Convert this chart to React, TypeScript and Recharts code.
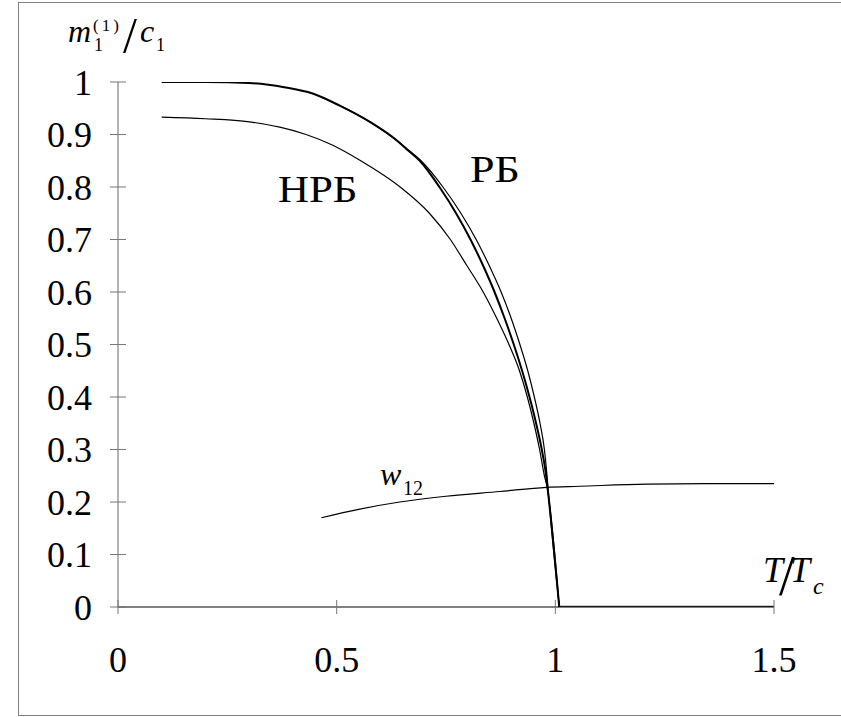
import React from 'react';
import { LineChart, Line, XAxis, YAxis } from 'recharts';

// ---- data ----
const xTicks = [0, 0.5, 1, 1.5];
const yTicks = [0, 0.1, 0.2, 0.3, 0.4, 0.5, 0.6, 0.7, 0.8, 0.9, 1];

// РБ (thick) curve
const rbT = [0.1, 0.2, 0.3, 0.38, 0.445, 0.507, 0.576, 0.637, 0.66, 0.69, 0.735, 0.773, 0.806, 0.835, 0.861, 0.884, 0.905, 0.924, 0.941, 0.956, 0.969, 0.979, 0.982, 1.009];
const rbV = [1.0, 1.0, 0.998, 0.99, 0.978, 0.955, 0.924, 0.889, 0.872, 0.85, 0.8, 0.75, 0.7, 0.65, 0.6, 0.55, 0.5, 0.45, 0.4, 0.35, 0.3, 0.25, 0.229, 0];

// zero line above Tc
const zeroT = [1.009, 1.5];
const zeroV = [0, 0];

// second thin curve (right of the thick one)
const rb2T = [0.465, 0.507, 0.576, 0.637, 0.662, 0.693, 0.743, 0.784, 0.819, 0.849, 0.876, 0.899, 0.919, 0.937, 0.952, 0.965, 0.975, 0.981, 0.983, 1.009];
const rb2V = [0.971, 0.955, 0.924, 0.889, 0.872, 0.85, 0.8, 0.75, 0.7, 0.65, 0.6, 0.55, 0.5, 0.45, 0.4, 0.35, 0.3, 0.25, 0.229, 0];

// НРБ curve
const nrbT = [0.1, 0.2, 0.301, 0.37, 0.43, 0.49, 0.555, 0.645, 0.712, 0.76, 0.798, 0.835, 0.866, 0.894, 0.918, 0.936, 0.951, 0.964, 0.975, 0.981, 1.009];
const nrbV = [0.933, 0.93, 0.924, 0.914, 0.9, 0.88, 0.85, 0.8, 0.75, 0.7, 0.65, 0.6, 0.55, 0.5, 0.45, 0.4, 0.35, 0.3, 0.25, 0.229, 0];

// w12 curve
const wT = [0.465, 0.55, 0.644, 0.75, 0.873, 0.98, 1.055, 1.208, 1.345, 1.5];
const wV = [0.17, 0.186, 0.2, 0.211, 0.22, 0.228, 0.23, 0.234, 0.235, 0.235];

const toData = (ts: number[], vs: number[]) => ts.map((t, i) => ({ t, v: vs[i] }));

const SERIF = '"Liberation Serif", serif';

const XTick = (props: any) => {
  const { x, y, payload } = props;
  return (
    <g>
      <line x1={x} x2={x} y1={y - 7} y2={y + 7} stroke="#777" strokeWidth={1} />
      <text x={x} y={y + 65} textAnchor="middle" style={{ fontFamily: SERIF, fontSize: 36 }} fill="#000">
        {String(payload.value)}
      </text>
    </g>
  );
};

const YTick = (props: any) => {
  const { x, y, payload } = props;
  return (
    <g>
      <line x1={x - 8} x2={x + 8} y1={y} y2={y} stroke="#777" strokeWidth={1} />
      <text x={x - 26} y={y} dy="0.355em" textAnchor="end" style={{ fontFamily: SERIF, fontSize: 36 }} fill="#000">
        {String(payload.value)}
      </text>
    </g>
  );
};

export default function App() {
  return (
    <div style={{ position: 'absolute', left: 0, top: 0, width: 841, height: 717, background: '#fff' }}>
      <div
        style={{
          position: 'absolute',
          left: 18,
          top: 2,
          width: 830,
          height: 714,
          border: '1px solid #808080',
          boxSizing: 'border-box',
        }}
      />
      <div style={{ position: 'absolute', left: 0, top: 0 }}>
        <LineChart width={841} height={717} margin={{ top: 82, right: 67, bottom: 30, left: 0 }}>
          <XAxis
            type="number"
            dataKey="t"
            domain={[0, 1.5]}
            ticks={xTicks}
            allowDataOverflow
            height={80}
            axisLine={{ stroke: '#000', strokeWidth: 1 }}
            tickLine={false}
            tickSize={0}
            tickMargin={0}
            tick={XTick}
            interval={0}
          />
          <YAxis
            type="number"
            dataKey="v"
            domain={[0, 1]}
            ticks={yTicks}
            allowDataOverflow
            width={118}
            axisLine={{ stroke: '#666', strokeWidth: 1 }}
            tickLine={false}
            tickSize={0}
            tickMargin={0}
            tick={YTick}
            interval={0}
          />
          <Line data={toData(nrbT, nrbV)} dataKey="v" type="monotone" stroke="#000" strokeWidth={1.2} dot={false} isAnimationActive={false} />
          <Line data={toData(rb2T, rb2V)} dataKey="v" type="monotone" stroke="#000" strokeWidth={1.2} dot={false} isAnimationActive={false} />
          <Line data={toData(rbT, rbV)} dataKey="v" type="monotone" stroke="#000" strokeWidth={2} dot={false} isAnimationActive={false} />
          <Line data={toData(zeroT, zeroV)} dataKey="v" type="linear" stroke="#333" strokeWidth={2.5} dot={false} isAnimationActive={false} />
          <Line data={toData(wT, wV)} dataKey="v" type="monotone" stroke="#000" strokeWidth={1.2} dot={false} isAnimationActive={false} />
        </LineChart>
      </div>
      <svg width={841} height={717} style={{ position: 'absolute', left: 0, top: 0, pointerEvents: 'none' }}>
        {/* y axis title m1^(1)/c1 */}
        <text style={{ fontFamily: SERIF }} fill="#000">
          <tspan x={68} y={42} fontStyle="italic" fontSize={32}>m</tspan>
          <tspan x={93} y={31} fontSize={17} letterSpacing={3}>(1)</tspan>
        </text>
        <text style={{ fontFamily: SERIF }} fill="#000">
          <tspan x={94} y={51} fontSize={18}>1</tspan>
          <tspan x={123} y={52} fontSize={50}>/</tspan>
          <tspan x={140} y={42} fontStyle="italic" fontSize={32}>c</tspan>
          <tspan x={156} y={51} fontSize={18}>1</tspan>
        </text>
        {/* x axis title T/Tc */}
        <text style={{ fontFamily: SERIF }} fill="#000">
          <tspan x={763} y={582} fontStyle="italic" fontSize={36}>T</tspan>
          <tspan x={779} y={595} fontSize={56}>/</tspan>
          <tspan x={790} y={582} fontStyle="italic" fontSize={36}>T</tspan>
          <tspan x={813} y={594} fontStyle="italic" fontSize={24}>c</tspan>
        </text>
        {/* curve labels */}
        <text transform="translate(278,202) scale(1.13,1)" x={0} y={0} style={{ fontFamily: SERIF, fontSize: 38 }} fill="#000">НРБ</text>
        <text transform="translate(470,182) scale(1.16,1)" x={0} y={0} style={{ fontFamily: SERIF, fontSize: 38 }} fill="#000">РБ</text>
        <text style={{ fontFamily: SERIF }} fill="#000">
          <tspan x={380} y={485} fontStyle="italic" fontSize={32}>w</tspan>
          <tspan x={403} y={495} fontSize={20}>12</tspan>
        </text>
      </svg>
    </div>
  );
}
